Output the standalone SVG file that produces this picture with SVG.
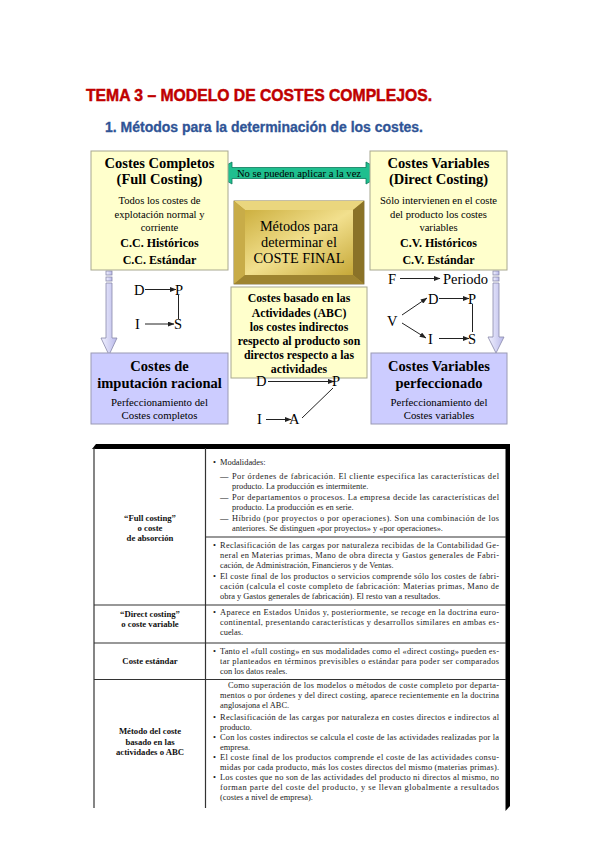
<svg xmlns="http://www.w3.org/2000/svg" width="599" height="848" viewBox="0 0 599 848">
<defs>
<style>
.s{font-family:"Liberation Serif","Times New Roman",serif}
.b{font-weight:bold}
.m{text-anchor:middle}
.by{fill:#ffffcc;stroke:#a8a890;stroke-width:1}
.bp{fill:#ccccff;stroke:#9a9ab4;stroke-width:1}
.h{font-size:14.5px;font-weight:bold}
.n{font-size:10.6px}
.c{font-size:12px;font-weight:bold}
.lt{font-size:14.5px}
.ln{stroke:#222;stroke-width:1;fill:none}
.tt{font-size:8.4px;fill:#222}
.tl{font-size:8.7px;font-weight:bold;fill:#111;text-anchor:middle}
.grid{stroke:#333;stroke-width:1.2}
</style>
<marker id="ah" viewBox="0 0 8 6" refX="7.5" refY="3" markerWidth="7" markerHeight="5" markerUnits="userSpaceOnUse" orient="auto">
<path d="M0,0 L8,3 L0,6 z" fill="#222"/>
</marker>
<linearGradient id="gold" x1="0" y1="0" x2="1" y2="1">
<stop offset="0" stop-color="#cdb040"/>
<stop offset="0.5" stop-color="#f2e08e"/>
<stop offset="1" stop-color="#c6a838"/>
</linearGradient>
<linearGradient id="lav" x1="0" y1="0" x2="1" y2="0">
<stop offset="0" stop-color="#f2f2ff"/>
<stop offset="1" stop-color="#b9b9ea"/>
</linearGradient>
</defs>
<rect width="599" height="848" fill="#fff"/>

<g id="title">
<text x="86" y="101" class="b" font-family="Liberation Sans, Arial, sans-serif" font-size="17" fill="#c00000" stroke="#c00000" stroke-width="0.5" textLength="346" lengthAdjust="spacingAndGlyphs">TEMA 3 – MODELO DE COSTES COMPLEJOS.</text>
<text x="105" y="132" class="b" font-family="Liberation Sans, Arial, sans-serif" font-size="14" fill="#2f5496" stroke="#2f5496" stroke-width="0.3" textLength="318" lengthAdjust="spacingAndGlyphs">1. Métodos para la determinación de los costes.</text>
</g>

<g id="connectors">
<g id="no-aplicar">
<polygon points="213,173 232,162 232,167.5 366,167.5 366,162 385,173 366,184 366,178.5 232,178.5 232,184" fill="#1fbf8f" stroke="#0d7a5a" stroke-width="0.8"/>
<text x="299" y="176.5" class="s m" font-size="10.6" fill="#000">No se pueden aplicar a la vez</text>
</g>
<g id="arrow-left">
<rect x="106" y="271" width="6" height="4" fill="url(#lav)" stroke="#8888aa" stroke-width="0.8"/>
<rect x="106" y="277" width="6" height="4" fill="url(#lav)" stroke="#8888aa" stroke-width="0.8"/>
<polygon points="106,283 112,283 112,338 117,338 109,355 101,338 106,338" fill="url(#lav)" stroke="#8888aa" stroke-width="0.8"/>
</g>
<g id="arrow-right">
<rect x="493" y="271" width="6" height="4" fill="url(#lav)" stroke="#8888aa" stroke-width="0.8"/>
<rect x="493" y="277" width="6" height="4" fill="url(#lav)" stroke="#8888aa" stroke-width="0.8"/>
<polygon points="493,283 499,283 499,337 504,337 496,353 488,337 493,337" fill="url(#lav)" stroke="#8888aa" stroke-width="0.8"/>
</g>
<line x1="145" y1="289.5" x2="176" y2="289.5" class="ln" marker-end="url(#ah)"/>
<line x1="145" y1="324" x2="174" y2="324" class="ln" marker-end="url(#ah)"/>
<line x1="178.5" y1="295" x2="178.5" y2="319" class="ln"/>
<line x1="400" y1="278.5" x2="440" y2="278.5" class="ln" marker-end="url(#ah)"/>
<line x1="402" y1="315" x2="427" y2="298" class="ln" marker-end="url(#ah)"/>
<line x1="402" y1="323" x2="426" y2="338" class="ln" marker-end="url(#ah)"/>
<line x1="439" y1="298.5" x2="469" y2="298.5" class="ln" marker-end="url(#ah)"/>
<line x1="439" y1="338.5" x2="469" y2="338.5" class="ln" marker-end="url(#ah)"/>
<line x1="472.5" y1="304" x2="472.5" y2="332" class="ln"/>
<line x1="268" y1="381.5" x2="334" y2="381.5" class="ln" marker-end="url(#ah)"/>
<line x1="266" y1="419.5" x2="291" y2="419.5" class="ln" marker-end="url(#ah)"/>
<line x1="302" y1="418" x2="333" y2="388" class="ln"/>
</g>

<g id="costes-completos">
<rect x="91" y="151" width="137" height="119" class="by"/>
<text x="159.5" y="168" class="s m h">Costes Completos</text>
<text x="159.5" y="184" class="s m h">(Full Costing)</text>
<text x="159.5" y="204" class="s m n">Todos los costes de</text>
<text x="159.5" y="218" class="s m n">explotación normal y</text>
<text x="159.5" y="231" class="s m n">corriente</text>
<text x="159.5" y="247" class="s m c">C.C. Históricos</text>
<text x="159.5" y="264" class="s m c">C.C. Estándar</text>
</g>

<g id="costes-variables">
<rect x="370" y="151" width="137" height="119" class="by"/>
<text x="438.5" y="168" class="s m h">Costes Variables</text>
<text x="438.5" y="184" class="s m h">(Direct Costing)</text>
<text x="438.5" y="204" class="s m n">Sólo intervienen en el coste</text>
<text x="438.5" y="218" class="s m n">del producto los costes</text>
<text x="438.5" y="231" class="s m n">variables</text>
<text x="438.5" y="247" class="s m c">C.V. Históricos</text>
<text x="438.5" y="264" class="s m c">C.V. Estándar</text>
</g>

<g id="metodos">
<rect x="234" y="201" width="130" height="83" fill="#b89a38" stroke="#6e5e28" stroke-width="0.8"/>
<polygon points="234,201 364,201 353,210 245,210" fill="#ead67e"/>
<polygon points="234,201 245,210 245,275 234,284" fill="#c8ac48"/>
<polygon points="364,201 364,284 353,275 353,210" fill="#8a7228"/>
<polygon points="234,284 245,275 353,275 364,284" fill="#9e8430"/>
<rect x="245" y="210" width="108" height="65" fill="url(#gold)"/>
<text x="299" y="231" class="s m" font-size="14.3">Métodos para</text>
<text x="299" y="247" class="s m" font-size="14.3">determinar el</text>
<text x="299" y="263" class="s m" font-size="14.3">COSTE FINAL</text>
</g>

<g id="abc">
<rect x="231" y="287" width="136" height="91" class="by"/>
<text x="299" y="302" class="s m b" font-size="11.8">Costes basado en las</text>
<text x="299" y="316.5" class="s m b" font-size="11.8">Actividades (ABC)</text>
<text x="299" y="330.5" class="s m b" font-size="11.8">los costes indirectos</text>
<text x="299" y="345" class="s m b" font-size="11.8">respecto al producto son</text>
<text x="299" y="359" class="s m b" font-size="11.8">directos respecto a las</text>
<text x="299" y="373" class="s m b" font-size="11.8">actividades</text>
</g>

<g id="imputacion-racional">
<rect x="91" y="353" width="137" height="71" class="bp"/>
<text x="159.5" y="371" class="s m h">Costes de</text>
<text x="159.5" y="388" class="s m h">imputación racional</text>
<text x="159.5" y="406" class="s m" font-size="10.8">Perfeccionamiento del</text>
<text x="159.5" y="419" class="s m" font-size="10.8">Costes completos</text>
</g>

<g id="variables-perfeccionado">
<rect x="371" y="353" width="136" height="71" class="bp"/>
<text x="439" y="371" class="s m h">Costes Variables</text>
<text x="439" y="388" class="s m h">perfeccionado</text>
<text x="439" y="406" class="s m" font-size="10.8">Perfeccionamiento del</text>
<text x="439" y="419" class="s m" font-size="10.8">Costes variables</text>
</g>

<g id="letters" class="s lt">
<text x="134" y="295">D</text>
<text x="175" y="295">P</text>
<text x="135" y="329">I</text>
<text x="174" y="329">S</text>
<text x="388" y="284">F</text>
<text x="443" y="284">Periodo</text>
<text x="387" y="326">V</text>
<text x="428" y="304">D</text>
<text x="468" y="304">P</text>
<text x="428" y="344">I</text>
<text x="468" y="344">S</text>
<text x="256" y="386">D</text>
<text x="332" y="386">P</text>
<text x="257" y="424">I</text>
<text x="289" y="424">A</text>
</g>

<g id="tabla">
<polygon points="92,449 96,444 510,444 510,449" fill="#000"/>
<polygon points="505.5,446 510,444 510,806 505.5,811" fill="#000"/>
<line x1="94" y1="448" x2="94" y2="808" class="grid"/>
<line x1="205.5" y1="448" x2="205.5" y2="808" class="grid"/>
<line x1="205.5" y1="537" x2="506" y2="537" class="grid"/>
<line x1="94" y1="605" x2="506" y2="605" class="grid"/>
<line x1="94" y1="643" x2="506" y2="643" class="grid"/>
<line x1="94" y1="679.5" x2="506" y2="679.5" class="grid"/>

<g id="lbl-full" class="s">
<text x="150" y="521" class="tl">“Full costing”</text>
<text x="150" y="531" class="tl">o coste</text>
<text x="150" y="541" class="tl">de absorción</text>
</g>
<g id="lbl-direct" class="s">
<text x="150" y="617" class="tl">“Direct costing”</text>
<text x="150" y="627" class="tl">o coste variable</text>
</g>
<g id="lbl-estandar" class="s">
<text x="150" y="664" class="tl">Coste estándar</text>
</g>
<g id="lbl-abc" class="s">
<text x="150" y="734" class="tl">Método del coste</text>
<text x="150" y="745" class="tl">basado en las</text>
<text x="150" y="755" class="tl">actividades o ABC</text>
</g>

<g id="txt-full-a" class="s tt">
<text x="213" y="465">•</text><text x="220" y="465">Modalidades:</text>
<text x="220" y="479">—</text><text x="232" y="479" textLength="267" lengthAdjust="spacing">Por órdenes de fabricación. El cliente especifica las características del</text>
<text x="232" y="489">producto. La producción es intermitente.</text>
<text x="220" y="500">—</text><text x="232" y="500" textLength="267" lengthAdjust="spacing">Por departamentos o procesos. La empresa decide las características del</text>
<text x="232" y="510">producto. La producción es en serie.</text>
<text x="220" y="521">—</text><text x="232" y="521" textLength="267" lengthAdjust="spacing">Híbrido (por proyectos o por operaciones). Son una combinación de los</text>
<text x="232" y="531">anteriores. Se distinguen «por proyectos» y «por operaciones».</text>
</g>
<g id="txt-full-b" class="s tt">
<text x="213" y="548">•</text><text x="220" y="548" textLength="279" lengthAdjust="spacing">Reclasificación de las cargas por naturaleza recibidas de la Contabilidad Ge-</text>
<text x="220" y="558" textLength="279" lengthAdjust="spacing">neral en Materias primas, Mano de obra directa y Gastos generales de Fabri-</text>
<text x="220" y="568">cación, de Administración, Financieros y de Ventas.</text>
<text x="213" y="579">•</text><text x="220" y="579" textLength="279" lengthAdjust="spacing">El coste final de los productos o servicios comprende sólo los costes de fabri-</text>
<text x="220" y="589" textLength="279" lengthAdjust="spacing">cación (calcula el coste completo de fabricación: Materias primas, Mano de</text>
<text x="220" y="599">obra y Gastos generales de fabricación). El resto van a resultados.</text>
</g>
<g id="txt-direct" class="s tt">
<text x="213" y="615">•</text><text x="220" y="615" textLength="279" lengthAdjust="spacing">Aparece en Estados Unidos y, posteriormente, se recoge en la doctrina euro-</text>
<text x="220" y="625" textLength="279" lengthAdjust="spacing">continental, presentando características y desarrollos similares en ambas es-</text>
<text x="220" y="635">cuelas.</text>
</g>
<g id="txt-estandar" class="s tt">
<text x="213" y="654">•</text><text x="220" y="654" textLength="279" lengthAdjust="spacing">Tanto el «full costing» en sus modalidades como el «direct costing» pueden es-</text>
<text x="220" y="664" textLength="279" lengthAdjust="spacing">tar planteados en términos previsibles o estándar para poder ser comparados</text>
<text x="220" y="674">con los datos reales.</text>
</g>
<g id="txt-abc" class="s tt">
<text x="228" y="688" textLength="271" lengthAdjust="spacing">Como superación de los modelos o métodos de coste completo por departa-</text>
<text x="220" y="698" textLength="279" lengthAdjust="spacing">mentos o por órdenes y del direct costing, aparece recientemente en la doctrina</text>
<text x="220" y="708">anglosajona el ABC.</text>
<text x="213" y="720">•</text><text x="220" y="720" textLength="279" lengthAdjust="spacing">Reclasificación de las cargas por naturaleza en costes directos e indirectos al</text>
<text x="220" y="730">producto.</text>
<text x="213" y="740">•</text><text x="220" y="740" textLength="279" lengthAdjust="spacing">Con los costes indirectos se calcula el coste de las actividades realizadas por la</text>
<text x="220" y="750">empresa.</text>
<text x="213" y="760">•</text><text x="220" y="760" textLength="279" lengthAdjust="spacing">El coste final de los productos comprende el coste de las actividades consu-</text>
<text x="220" y="770" textLength="279" lengthAdjust="spacing">midas por cada producto, más los costes directos del mismo (materias primas).</text>
<text x="213" y="780">•</text><text x="220" y="780" textLength="279" lengthAdjust="spacing">Los costes que no son de las actividades del producto ni directos al mismo, no</text>
<text x="220" y="790" textLength="279" lengthAdjust="spacing">forman parte del coste del producto, y se llevan globalmente a resultados</text>
<text x="220" y="800">(costes a nivel de empresa).</text>
</g>
</g>
</svg>
